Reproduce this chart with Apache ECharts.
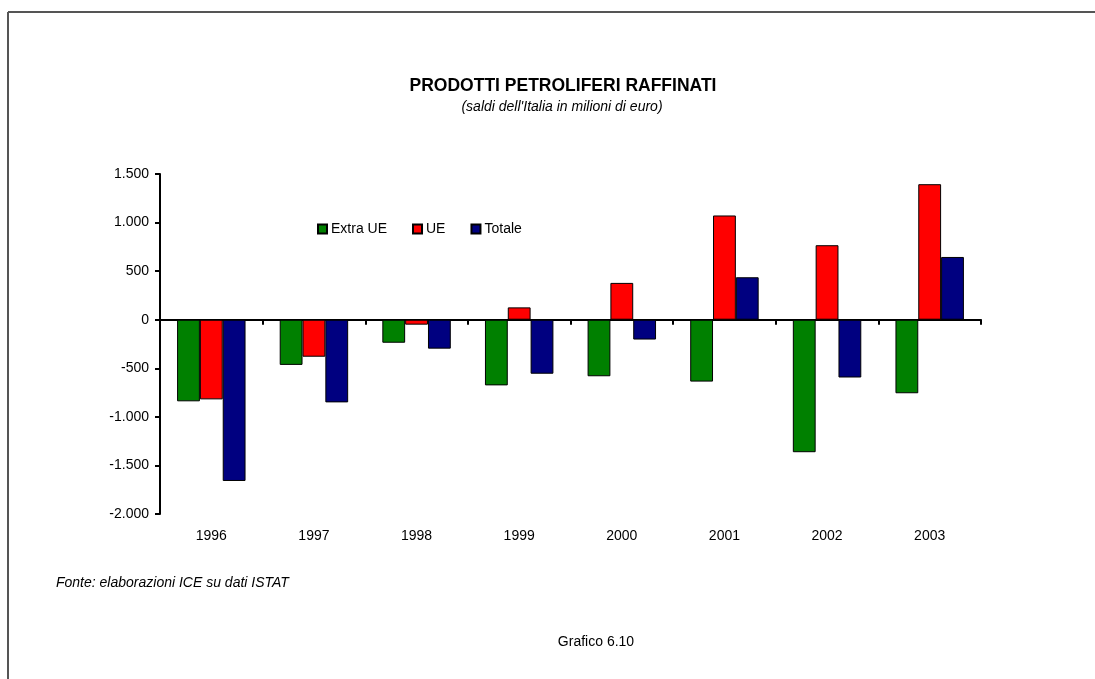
<!DOCTYPE html>
<html>
<head>
<meta charset="utf-8">
<script src="https://cdn.jsdelivr.net/npm/echarts@6/dist/echarts.min.js"></script>
<style>
html,body{margin:0;padding:0;background:#fff;}
#c{width:1095px;height:679px;}
</style>
</head>
<body>
<div id="c"></div>
<script>
const years = ['1996','1997','1998','1999','2000','2001','2002','2003'];
const extraUE = [-840, -465, -237, -676, -582, -637, -1364, -757];
const ue = [-820, -381, -51, 127, 379, 1073, 767, 1395];
const totale = [-1660, -851, -298, -556, -204, 437, -595, 646];
const seriesNames = ['Extra UE', 'UE', 'Totale'];
const seriesColors = ['#008000', '#FF0000', '#000080'];
const yMin = -2000, yMax = 1500, yStep = 500;

const FONT = '"Liberation Sans", Arial, sans-serif';
const chart = echarts.init(document.getElementById('c'), null, {renderer: 'canvas'});

function fmt(v) {
  const s = Math.abs(v).toString().replace(/\B(?=(\d{3})+(?!\d))/g, '.');
  return (v < 0 ? '-' : '') + s;
}

const dataSets = [extraUE, ue, totale];

chart.setOption({
  animation: false,
  backgroundColor: '#fff',
  textStyle: {fontFamily: FONT, color: '#000'},
  title: [
    {text: 'PRODOTTI PETROLIFERI RAFFINATI', left: 563, top: 77, textAlign: 'center', padding: 0,
     textStyle: {fontFamily: FONT, fontSize: 17.5, fontWeight: 'bold', color: '#000'}},
    {text: "(saldi dell'Italia in milioni di euro)", left: 562, top: 100, textAlign: 'center', padding: 0,
     textStyle: {fontFamily: FONT, fontSize: 14, fontStyle: 'italic', fontWeight: 'normal', color: '#000'}},
    {text: 'Fonte: elaborazioni ICE su dati ISTAT', left: 56, top: 576, padding: 0,
     textStyle: {fontFamily: FONT, fontSize: 14, fontStyle: 'italic', fontWeight: 'normal', color: '#000'}},
    {text: 'Grafico 6.10', left: 596, top: 635, textAlign: 'center', padding: 0,
     textStyle: {fontFamily: FONT, fontSize: 14, fontWeight: 'normal', color: '#000'}}
  ],
  legend: {
    left: 317, top: 222, padding: 0,
    itemWidth: 9, itemHeight: 9, itemGap: 25,
    icon: 'rect',
    data: seriesNames,
    textStyle: {fontFamily: FONT, fontSize: 14, color: '#000', padding: [0, 0, 0, -1]}
  },
  grid: {left: 160, right: 114, top: 174, bottom: 165, containLabel: false},
  xAxis: [
    {type: 'category', data: years, position: 'bottom',
     axisLine: {show: false, onZero: false}, axisTick: {show: false},
     axisLabel: {margin: 15, fontFamily: FONT, fontSize: 14, color: '#000'},
     splitLine: {show: false}},
    {type: 'category', data: years, position: 'bottom',
     axisLine: {show: true, onZero: true, lineStyle: {color: '#000', width: 2}},
     axisTick: {show: true, length: 5, lineStyle: {color: '#000', width: 2}},
     axisLabel: {show: false}, splitLine: {show: false}}
  ],
  yAxis: {
    type: 'value', min: yMin, max: yMax, interval: yStep,
    axisLine: {show: true, lineStyle: {color: '#000', width: 2}},
    axisTick: {show: true, length: 5, lineStyle: {color: '#000', width: 2}},
    axisLabel: {margin: 11, fontFamily: FONT, fontSize: 14, color: '#000', formatter: fmt},
    splitLine: {show: false}
  },
  graphic: [
    {type: 'line', shape: {x1: 8, y1: 12, x2: 1095, y2: 12}, style: {stroke: '#555', lineWidth: 2}},
    {type: 'line', shape: {x1: 8, y1: 12, x2: 8, y2: 679}, style: {stroke: '#555', lineWidth: 2}}
  ],
  series: seriesNames.map((n, i) => ({
    name: n, type: 'bar', xAxisIndex: 0, data: dataSets[i],
    barGap: '0%', barCategoryGap: '33.3%',
    itemStyle: {color: seriesColors[i], borderColor: '#000', borderWidth: 1}
  }))
});
</script>
</body>
</html>
